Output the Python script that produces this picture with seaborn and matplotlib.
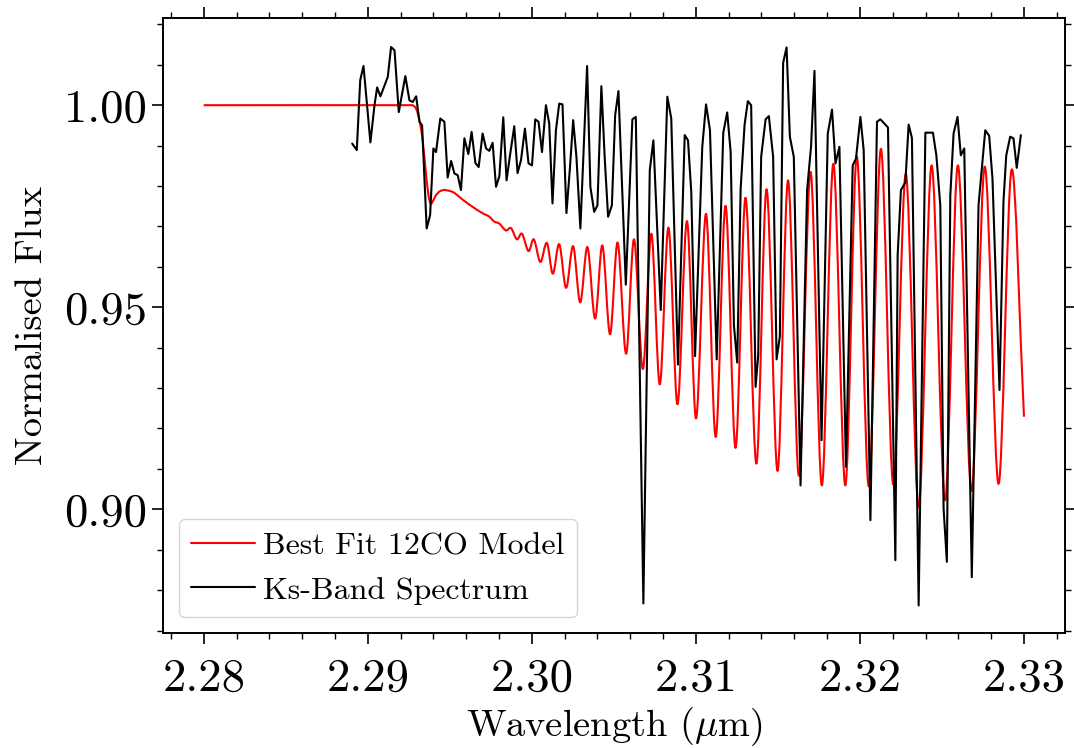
import matplotlib
matplotlib.use("Agg")
import matplotlib.pyplot as plt
from matplotlib.path import Path
from matplotlib.patches import PathPatch
from matplotlib.ticker import MultipleLocator, FormatStrFormatter
import numpy as np
import pandas as pd
import seaborn as sns

# Ks-band spectrum (wavelength in micron, normalised flux)
spec_wl = [
    2.28905, 2.28933, 2.28954, 2.28974, 2.29016, 2.29041, 2.29057, 2.29077,
    2.29122, 2.29142, 2.29163, 2.29189, 2.29229, 2.29254, 2.29274, 2.29295,
    2.29315, 2.29331, 2.29359, 2.29380, 2.29400, 2.29416, 2.29442, 2.29467,
    2.29487, 2.29508, 2.29528, 2.29548, 2.29568, 2.29589, 2.29613, 2.29633,
    2.29656, 2.29676, 2.29700, 2.29721, 2.29741, 2.29761, 2.29782, 2.29802,
    2.29826, 2.29846, 2.29867, 2.29893, 2.29913, 2.29934, 2.29958, 2.29980,
    2.30001, 2.30021, 2.30041, 2.30062, 2.30086, 2.30106, 2.30126, 2.30147,
    2.30167, 2.30187, 2.30211, 2.30232, 2.30252, 2.30272, 2.30296, 2.30317,
    2.30337, 2.30357, 2.30380, 2.30400, 2.30424, 2.30445, 2.30465, 2.30488,
    2.30508, 2.30528, 2.30573, 2.30613, 2.30634, 2.30680, 2.30719, 2.30741,
    2.30786, 2.30826, 2.30850, 2.30891, 2.30932, 2.30952, 2.30972, 2.30995,
    2.31039, 2.31062, 2.31086, 2.31127, 2.31167, 2.31191, 2.31212, 2.31232,
    2.31252, 2.31273, 2.31297, 2.31317, 2.31337, 2.31364, 2.31380, 2.31398,
    2.31425, 2.31445, 2.31471, 2.31492, 2.31512, 2.31532, 2.31553, 2.31573,
    2.31597, 2.31638, 2.31678, 2.31702, 2.31723, 2.31766, 2.31804, 2.31830,
    2.31851, 2.31875, 2.31915, 2.31956, 2.31976, 2.32003, 2.32023, 2.32064,
    2.32104, 2.32125, 2.32171, 2.32216, 2.32230, 2.32250, 2.32277, 2.32297,
    2.32317, 2.32358, 2.32399, 2.32445, 2.32466, 2.32490, 2.32510, 2.32530,
    2.32551, 2.32571, 2.32595, 2.32615, 2.32636, 2.32682, 2.32723, 2.32764,
    2.32788, 2.32808, 2.32851, 2.32875, 2.32892, 2.32916, 2.32936, 2.32956,
    2.32981,
]
spec_flux = [
    0.9905, 0.9889, 1.0062, 1.0097, 0.9908, 1.0000, 1.0044, 1.0022,
    1.0070, 1.0144, 1.0136, 0.9983, 1.0072, 1.0012, 1.0008, 1.0022,
    0.9959, 0.9950, 0.9695, 0.9728, 0.9893, 0.9884, 0.9967, 0.9959,
    0.9821, 0.9862, 0.9831, 0.9827, 0.9790, 0.9918, 0.9879, 0.9934,
    0.9857, 0.9847, 0.9930, 0.9893, 0.9887, 0.9907, 0.9798, 0.9824,
    0.9970, 0.9814, 0.9876, 0.9948, 0.9832, 0.9864, 0.9942, 0.9856,
    0.9851, 0.9965, 0.9959, 0.9884, 1.0000, 0.9955, 0.9757, 0.9938,
    1.0004, 1.0002, 0.9733, 0.9843, 0.9963, 0.9872, 0.9695, 0.9901,
    1.0097, 0.9798, 0.9736, 0.9752, 1.0047, 0.9864, 0.9724, 0.9752,
    0.9975, 1.0035, 0.9556, 0.9965, 0.9971, 0.8767, 0.9839, 0.9913,
    0.9493, 1.0021, 0.9967, 0.9358, 0.9926, 0.9913, 0.9785, 0.9379,
    0.9897, 1.0002, 0.9938, 0.9371, 0.9932, 0.9982, 0.9884, 0.9455,
    0.9363, 0.9794, 0.9952, 1.0010, 1.0000, 0.9303, 0.9381, 0.9872,
    0.9965, 0.9973, 0.9872, 0.9371, 0.9428, 1.0105, 1.0143, 0.9922,
    0.9872, 0.9059, 0.9790, 0.9897, 1.0085, 0.9171, 0.9930, 0.9989,
    0.9856, 0.9897, 0.9105, 0.9851, 0.9868, 0.9971, 0.9889, 0.8973,
    0.9959, 0.9965, 0.9945, 0.8874, 0.9629, 0.9790, 0.9809, 0.9952,
    0.9919, 0.8762, 0.9932, 0.9932, 0.9876, 0.9752, 0.9002, 0.8870,
    0.9777, 0.9930, 0.9971, 0.9876, 0.9893, 0.8832, 0.9752, 0.9938,
    0.9924, 0.9819, 0.9295, 0.9761, 0.9876, 0.9922, 0.9918, 0.9845,
    0.9926,
]

# Best-fit 12CO model: continuum, band head and line cores / line-free maxima
model_wl = [
    2.28000, 2.29254, 2.29278, 2.29296, 2.29315, 2.29333, 2.29354, 2.29369,
    2.29382, 2.29394, 2.29412, 2.29436, 2.29464, 2.29497, 2.29528, 2.29576,
    2.29637, 2.29698, 2.29741, 2.29771, 2.29802, 2.29842, 2.29873, 2.29909,
    2.29940, 2.29980, 2.30012, 2.30052, 2.30092, 2.30128, 2.30167, 2.30209,
    2.30252, 2.30295, 2.30339, 2.30386, 2.30430, 2.30477, 2.30523, 2.30575,
    2.30623, 2.30677, 2.30729, 2.30780, 2.30833, 2.30888, 2.30946, 2.31001,
    2.31062, 2.31121, 2.31181, 2.31242, 2.31303, 2.31369, 2.31431, 2.31498,
    2.31562, 2.31628, 2.31699, 2.31768, 2.31838, 2.31911, 2.31981, 2.32054,
    2.32128, 2.32203, 2.32280, 2.32358, 2.32437, 2.32519, 2.32597, 2.32680,
    2.32761, 2.32845, 2.32924, 2.33000,
]
model_flux = [
    1.0000, 1.0000, 0.9999, 0.9990, 0.9963, 0.9918, 0.9834, 0.9780,
    0.9757, 0.9760, 0.9775, 0.9786, 0.9790, 0.9788, 0.9783, 0.9767,
    0.9749, 0.9733, 0.9724, 0.9712, 0.9707, 0.9690, 0.9696, 0.9668,
    0.9682, 0.9639, 0.9668, 0.9612, 0.9659, 0.9583, 0.9656, 0.9548,
    0.9651, 0.9512, 0.9649, 0.9472, 0.9653, 0.9433, 0.9660, 0.9385,
    0.9668, 0.9347, 0.9682, 0.9309, 0.9697, 0.9260, 0.9713, 0.9225,
    0.9731, 0.9179, 0.9751, 0.9152, 0.9771, 0.9113, 0.9792, 0.9095,
    0.9814, 0.9083, 0.9835, 0.9059, 0.9855, 0.9059, 0.9873, 0.9057,
    0.9892, 0.9061, 0.9830, 0.9005, 0.9851, 0.9022, 0.9851, 0.9045,
    0.9848, 0.9063, 0.9840, 0.9229,
]

model_label = "Best Fit 12CO Model"
spec_label = "Ks-Band Spectrum"
model_color = "red"
spec_color = "black"

sns.set_theme(style="ticks", rc={
    "axes.edgecolor": "black",
    "axes.linewidth": 1.4,
    "xtick.color": "black",
    "ytick.color": "black",
    "text.color": "black",
    "axes.labelcolor": "black",
    "xtick.direction": "out",
    "ytick.direction": "out",
    "xtick.major.size": 7.6,
    "ytick.major.size": 7.6,
    "xtick.minor.size": 4.3,
    "ytick.minor.size": 4.3,
    "xtick.major.width": 1.2,
    "ytick.major.width": 1.2,
    "xtick.minor.width": 1.0,
    "ytick.minor.width": 1.0,
})
plt.rcParams["font.family"] = ["cmr10", "DejaVu Serif"]
plt.rcParams["mathtext.fontset"] = "cm"
plt.rcParams["axes.formatter.use_mathtext"] = True

fig = plt.figure(figsize=(10.74, 7.48), dpi=100)
ax = fig.add_axes([0.1515, 0.1533, 0.8401, 0.8222])

model_df = pd.DataFrame({"wl": model_wl, "flux": model_flux})
spec_df = pd.DataFrame({"wl": spec_wl, "flux": spec_flux})

sns.lineplot(data=model_df, x="wl", y="flux", ax=ax, color=model_color,
             lw=1.5, sort=False, estimator=None, label=model_label)
model_line = ax.get_lines()[-1]
sns.lineplot(data=spec_df, x="wl", y="flux", ax=ax, color=spec_color,
             lw=1.5, sort=False, estimator=None, label=spec_label)

ax.set_xlim(2.2775, 2.3325)
ax.set_ylim(0.8693, 1.0215)
ax.xaxis.set_major_locator(MultipleLocator(0.01))
ax.xaxis.set_minor_locator(MultipleLocator(0.002))
ax.yaxis.set_major_locator(MultipleLocator(0.05))
ax.yaxis.set_minor_locator(MultipleLocator(0.01))
ax.xaxis.set_major_formatter(FormatStrFormatter("%.2f"))
ax.yaxis.set_major_formatter(FormatStrFormatter("%.2f"))
ax.tick_params(which="both", top=True, right=True)
ax.tick_params(axis="both", which="major", labelsize=33.6)
ax.tick_params(axis="x", which="major", pad=10)

ax.set_xlabel(r"Wavelength ($\mu$m)", fontsize=27.7)
ax.set_ylabel("Normalised Flux", fontsize=27.7, labelpad=11)

leg = ax.legend(loc="lower left", fontsize=23, frameon=True, fancybox=True,
                framealpha=0.8, edgecolor="0.8", handletextpad=0.25,
                handlelength=2.0)
leg.get_frame().set_linewidth(1.0)

# The model is a smooth synthetic spectrum: render its line as a cubic
# Hermite (Bezier) curve through the same points instead of straight segments.
xs, ys = (np.asarray(a, dtype=float) for a in model_line.get_data())
slope = np.zeros_like(ys)
slope[1:-1] = (ys[2:] - ys[:-2]) / (xs[2:] - xs[:-2])
slope[-1] = (ys[-1] - ys[-2]) / (xs[-1] - xs[-2])
verts = [(xs[0], ys[0])]
codes = [Path.MOVETO]
for i in range(len(xs) - 1):
    h = (xs[i + 1] - xs[i]) / 3.0
    verts += [(xs[i] + h, ys[i] + slope[i] * h),
              (xs[i + 1] - h, ys[i + 1] - slope[i + 1] * h),
              (xs[i + 1], ys[i + 1])]
    codes += [Path.CURVE4] * 3
smooth = PathPatch(Path(verts, codes), facecolor="none",
                   edgecolor=model_color, lw=1.5, zorder=1.9,
                   capstyle="butt", joinstyle="round")
ax.add_patch(smooth)
model_line.set_visible(False)
ax.set_xlim(2.2775, 2.3325)
ax.set_ylim(0.8693, 1.0215)

fig.savefig("out.png", dpi=100)
